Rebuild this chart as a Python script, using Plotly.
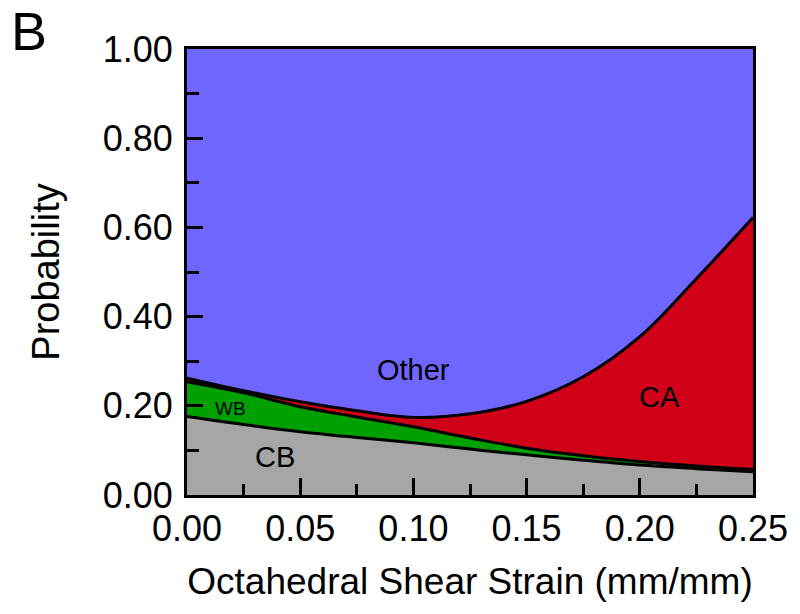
import plotly.graph_objects as go

# Data (probabilities of each class, stacked bottom to top)
strain = [0.0, 0.025, 0.05, 0.075, 0.10, 0.125, 0.15, 0.175, 0.20, 0.225, 0.25]
cb = [0.176, 0.158, 0.142, 0.129, 0.117, 0.103, 0.090, 0.078, 0.067, 0.059, 0.052]
wb = [0.078, 0.071, 0.056, 0.046, 0.036, 0.025, 0.015, 0.010, 0.008, 0.006, 0.005]
ca = [0.008, 0.005, 0.011, 0.014, 0.021, 0.054, 0.105, 0.177, 0.280, 0.420, 0.565]
other = [round(1 - a - b - c, 4) for a, b, c in zip(cb, wb, ca)]

series_names = ["CB", "WB", "CA", "Other"]
series_vals = [cb, wb, ca, other]
fill_colors = ["rgb(166,166,166)", "rgb(0,160,0)", "rgb(208,0,24)", "rgb(110,102,255)"]
line_widths = [3, 3, 3, 0]

x_ticks = [0.0, 0.05, 0.10, 0.15, 0.20, 0.25]
x_ticklabels = ["0.00", "0.05", "0.10", "0.15", "0.20", "0.25"]
y_ticks = [0.0, 0.2, 0.4, 0.6, 0.8, 1.0]
y_ticklabels = ["0.00", "0.20", "0.40", "0.60", "0.80", "1.00"]

fig = go.Figure()
# baseline at zero
fig.add_trace(go.Scatter(x=strain, y=[0] * len(strain), mode="lines",
                         line=dict(width=0), hoverinfo="skip", showlegend=False))
cum = [0.0] * len(strain)
for name, vals, fc, lw in zip(series_names, series_vals, fill_colors, line_widths):
    cum = [c + v for c, v in zip(cum, vals)]
    fig.add_trace(go.Scatter(
        x=strain, y=cum, name=name, mode="lines", fill="tonexty",
        line=dict(color="black", width=lw, shape="spline", smoothing=1.0),
        fillcolor=fc, hoverinfo="skip", showlegend=False,
    ))

font_family = "Liberation Sans, Arial, sans-serif"

annotations = [
    dict(x=0.10, y=0.28, text="Other", font=dict(size=29)),
    dict(x=0.2085, y=0.22, text="CA", font=dict(size=29)),
    dict(x=0.019, y=0.195, text="WB", font=dict(size=19)),
    dict(x=0.039, y=0.085, text="CB", font=dict(size=29)),
]
for a in annotations:
    a.update(xref="x", yref="y", showarrow=False)
    a["font"].update(color="black", family=font_family)
annotations.append(dict(x=-0.28, y=1.04, xref="paper", yref="paper", text="B", showarrow=False,
                        xanchor="center", yanchor="middle",
                        font=dict(size=54, color="black", family=font_family)))

# the page body adds an 8 px offset, so the figure is 8 px smaller than the window
fig.update_layout(
    width=792, height=606,
    margin=dict(l=179, r=44, t=41, b=119),
    paper_bgcolor="white", plot_bgcolor="white",
    font=dict(family=font_family, color="black"),
    annotations=annotations,
    xaxis=dict(
        range=[0, 0.25], tickvals=x_ticks, ticktext=x_ticklabels,
        ticks="inside", ticklen=17, tickwidth=3, tickcolor="black",
        minor=dict(ticks="inside", ticklen=11, tickwidth=3, tickcolor="black", dtick=0.025, tick0=0),
        showline=True, linewidth=3, linecolor="black", mirror=True,
        showgrid=False, zeroline=False, tickfont=dict(size=36),
        title=dict(text="Octahedral Shear Strain (mm/mm)", font=dict(size=37), standoff=20),
        layer="above traces",
    ),
    yaxis=dict(
        range=[0, 1], tickvals=y_ticks, ticktext=y_ticklabels,
        ticks="inside", ticklen=16, tickwidth=3, tickcolor="black",
        minor=dict(ticks="inside", ticklen=12, tickwidth=3, tickcolor="black", dtick=0.1, tick0=0),
        showline=True, linewidth=3, linecolor="black", mirror=True,
        showgrid=False, zeroline=False, tickfont=dict(size=36), ticklabelstandoff=4,
        title=dict(text="Probability", font=dict(size=38), standoff=32),
        layer="above traces",
    ),
)

fig.write_html("out.html")
